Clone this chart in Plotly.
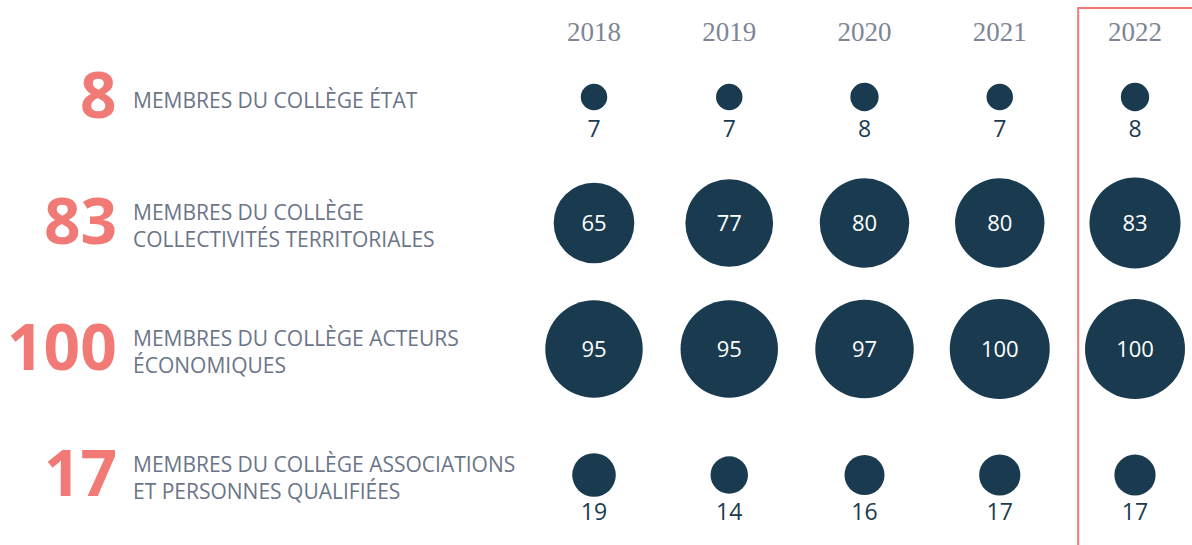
import plotly.graph_objects as go

# Data
years = [2018, 2019, 2020, 2021, 2022]
colleges = [
    "MEMBRES DU COLLÈGE ÉTAT",
    "MEMBRES DU COLLÈGE<br>COLLECTIVITÉS TERRITORIALES",
    "MEMBRES DU COLLÈGE ACTEURS<br>ÉCONOMIQUES",
    "MEMBRES DU COLLÈGE ASSOCIATIONS<br>ET PERSONNES QUALIFIÉES",
]
etat = [7, 7, 8, 7, 8]
collectivites = [65, 77, 80, 80, 83]
acteurs = [95, 95, 97, 100, 100]
associations = [19, 14, 16, 17, 17]
series = [etat, collectivites, acteurs, associations]

NAVY = "#1a3b4f"
SALMON = "#f27a76"
GREY = "#6b7588"
YEAR_GREY = "#7d8596"

W, H = 1192, 545
row_step = 126                          # px between rows
below_offset_px = [34, None, None, 39]  # value label under small bubbles (None = inside)
inside_offset_px = 2

fig = go.Figure()

for row, vals in enumerate(series):
    fig.add_trace(go.Scatter(
        x=years,
        y=[row] * len(years),
        mode="markers",
        marker=dict(size=vals, sizemode="area", sizeref=0.02,
                    color=NAVY, opacity=1, line=dict(width=0)),
        hoverinfo="skip",
        showlegend=False,
        cliponaxis=False,
    ))

    off = below_offset_px[row]
    inside = off is None
    dy = inside_offset_px if inside else off
    fig.add_trace(go.Scatter(
        x=years,
        y=[row + dy / row_step] * len(years),
        mode="text",
        text=[str(v) for v in vals],
        textposition="middle center",
        textfont=dict(family="Open Sans", size=22 if inside else 23,
                      color="white" if inside else NAVY),
        hoverinfo="skip",
        showlegend=False,
        cliponaxis=False,
    ))

    # Headline figure (latest year) and college name on the left
    fig.add_annotation(
        x=119 / W, xref="paper", y=row - 0.03, yref="y",
        text=f"<b>{vals[-1]}</b>", showarrow=False,
        xanchor="right", yanchor="middle",
        font=dict(family="Open Sans", size=64, color=SALMON),
    )
    fig.add_annotation(
        x=131 / W, xref="paper", y=row + 0.02, yref="y",
        text=colleges[row], showarrow=False, align="left",
        xanchor="left", yanchor="middle",
        font=dict(family="Open Sans", size=21, color=GREY),
    )

# Year headers
fig.add_trace(go.Scatter(
    x=years, y=[-0.5] * len(years), mode="text",
    text=[str(y) for y in years],
    textfont=dict(family="Liberation Serif", size=27, color=YEAR_GREY),
    hoverinfo="skip", showlegend=False, cliponaxis=False,
))

# Highlight frame around the latest year
fig.add_shape(
    type="rect", xref="x", yref="paper",
    x0=years[-1] - 0.42, x1=years[-1] + 0.7,
    y0=-0.05, y1=1 - 8 / H,
    line=dict(color=SALMON, width=2), fillcolor="rgba(0,0,0,0)",
    layer="below",
)

step = (1135 - 594) / 4
x_lo = 2018 - 594 / step
x_hi = 2018 + (W - 594) / step
y_top = -97 / row_step
y_bot = (H - 97) / row_step

fig.update_layout(
    width=W, height=H,
    margin=dict(l=0, r=0, t=0, b=0),
    paper_bgcolor="white", plot_bgcolor="white",
    xaxis=dict(range=[x_lo, x_hi], visible=False, fixedrange=True),
    yaxis=dict(range=[y_bot, y_top], visible=False, fixedrange=True),
)

fig.write_html("out.html")
